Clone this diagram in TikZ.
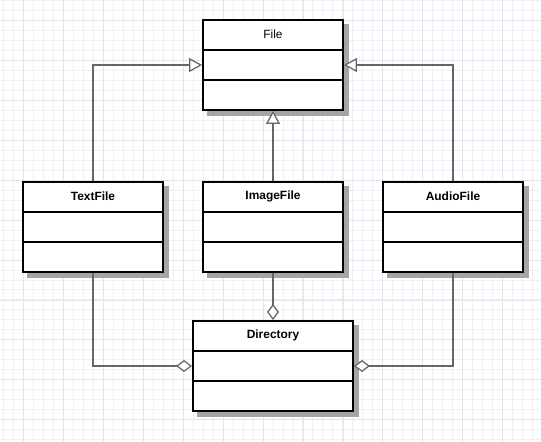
\documentclass[tikz,border=0pt]{standalone}
\usepackage{fontspec}
\setmainfont{Liberation Sans}
\usetikzlibrary{arrows.meta,calc,backgrounds}
\definecolor{gridminor}{RGB}{239,239,246}
\definecolor{gridmajor}{RGB}{228,228,238}
\definecolor{shadowgray}{RGB}{165,165,165}
\tikzset{classbox/.style={draw,line width=1.1pt,fill=white,minimum width=2.8cm,minimum height=1.8cm}}
\tikzset{classname/.style={font=\fontsize{6.8}{8}\selectfont\bfseries}}
\tikzset{inherit/.style={draw=black!60,line width=0.7pt,-{Triangle[length=0.26cm,width=0.28cm,fill=white]}}}
\tikzset{aggr/.style={draw=black!60,line width=0.7pt,-{Diamond[length=0.32cm,width=0.24cm,fill=white]}}}

\begin{document}
\begin{tikzpicture}[x=0.02cm,y=-0.02cm]
\useasboundingbox (0,0) rectangle (541,442);
\node (file) at (273,65)[classbox]{};
\node (filetext) at ($(file.north)+(0,15)$)[font=\fontsize{6.8}{8}\selectfont]{File};
\node (text) at (93,227)[classbox]{};
\node (texttext) at ($(text.north)+(0,15)$)[classname]{TextFile};
\node (image) at (273,227)[classbox]{};
\node (imagetext) at ($(image.north)+(0,15)$)[classname]{ImageFile};
\node (audio) at (453,227)[classbox]{};
\node (audiotext) at ($(audio.north)+(0,15)$)[classname]{AudioFile};
\node (dir) at (273,366)[classbox,minimum width=3.2cm]{};
\node (dirtext) at ($(dir.north)+(0,15)$)[classname]{Directory};

% compartments
\foreach \c in {file,text,image,audio,dir}
  \foreach \f in {1,2}
    \draw[line width=1.1pt] ($(\c.north west)!\f/3!(\c.south west)$) -- ($(\c.north east)!\f/3!(\c.south east)$);

\begin{scope}[on background layer]
  \fill[white] (0,0) rectangle (541,442);
  \draw[gridminor,line width=0.5pt,shift={(3,0)}] (-3,0) grid[step=0.2cm] (538,442);
  \draw[gridmajor,line width=0.5pt,shift={(23,20)}] (-23,-20) grid[step=0.8cm] (518,422);
  % shadows
  \foreach \c in {file,text,image,audio,dir}
    \fill[shadowgray] ($(\c.north west)+(5,5)$) rectangle ($(\c.south east)+(5,5)$);
  \draw[inherit] (text.north) |- (file.west);
  \draw[inherit] (audio.north) |- (file.east);
  \draw[inherit] (image.north) -- (file.south);
  \draw[aggr] (image.south) -- (dir.north);
  \draw[aggr] (text.south) |- (dir.west);
  \draw[aggr] (audio.south) |- (dir.east);
\end{scope}
\end{tikzpicture}
\end{document}
